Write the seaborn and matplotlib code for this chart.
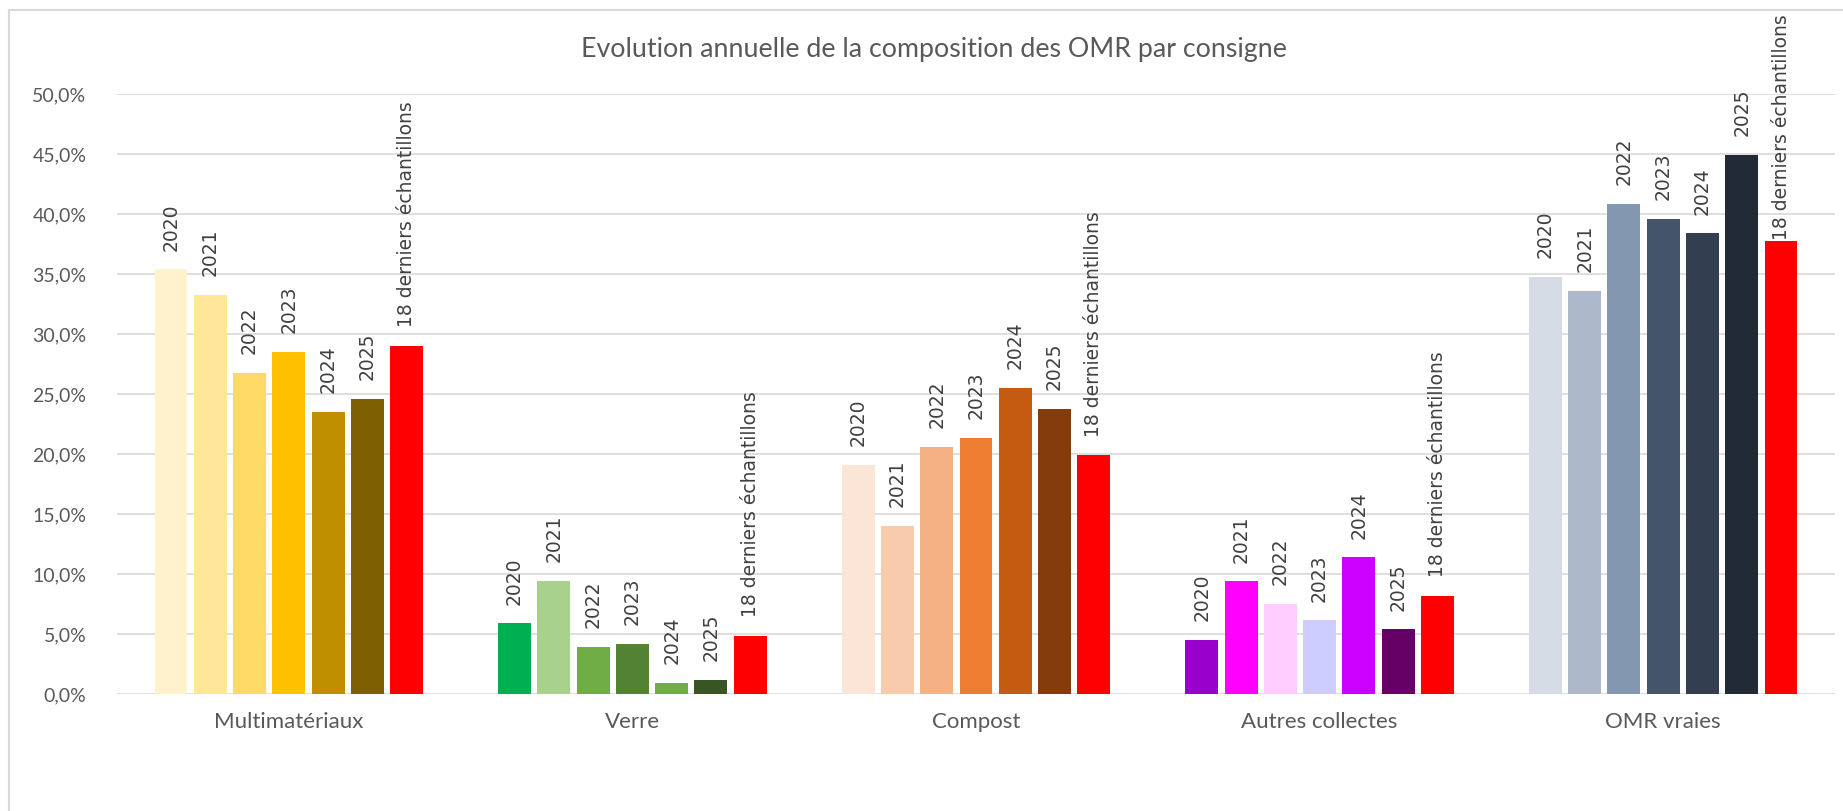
import matplotlib
matplotlib.use("Agg")
import matplotlib.pyplot as plt
import seaborn as sns
import pandas as pd
from matplotlib.patches import Rectangle

# ---- data ----
categories = ["Multimatériaux", "Verre", "Compost", "Autres collectes", "OMR vraies"]
series = ["2020", "2021", "2022", "2023", "2024", "2025", "18 derniers échantillons"]

multimateriaux = [35.4, 33.3, 26.8, 28.5, 23.5, 24.6, 29.0]
verre = [5.9, 9.45, 3.95, 4.2, 0.95, 1.2, 4.85]
compost = [19.1, 14.0, 20.6, 21.35, 25.5, 23.8, 19.9]
autres_collectes = [4.55, 9.4, 7.55, 6.15, 11.4, 5.4, 8.2]
omr_vraies = [34.75, 33.6, 40.85, 39.6, 38.4, 44.9, 37.75]

colors_multi = ['#FFF2CC', '#FFE699', '#FFD966', '#FFC000', '#BF8F00', '#7F6000', '#FF0000']
colors_verre = ['#00B050', '#A9D18E', '#70AD47', '#548235', '#70AD47', '#375623', '#FF0000']
colors_compost = ['#FBE5D6', '#F8CBAD', '#F4B183', '#ED7D31', '#C55A11', '#843C0C', '#FF0000']
colors_autres = ['#9900CC', '#FF00FF', '#FFCCFF', '#CCCCFF', '#CC00FF', '#660066', '#FF0000']
colors_omr = ['#D6DCE5', '#ADB9CA', '#8497B0', '#44546A', '#333F50', '#222A35', '#FF0000']

title = "Evolution annuelle de la composition des OMR par consigne"
y_ticks = [0, 5, 10, 15, 20, 25, 30, 35, 40, 45, 50]

values = [multimateriaux, verre, compost, autres_collectes, omr_vraies]
colors = [colors_multi, colors_verre, colors_compost, colors_autres, colors_omr]

rows = []
for c, vals in zip(categories, values):
    for s, v in zip(series, vals):
        rows.append({"cat": c, "serie": s, "val": v})
df = pd.DataFrame(rows)

# ---- figure ----
sns.set_theme(style="white")
plt.rcParams['font.family'] = ['Lato', 'DejaVu Sans']

W, H = 1843, 811
fig = plt.figure(figsize=(W / 100, H / 100), dpi=100)
fig.patch.set_facecolor("white")

# chart border
fig.add_artist(Rectangle((9 / W, -0.05), 1.2, (H - 10) / H + 0.05, transform=fig.transFigure,
                         fill=False, edgecolor="#D9D9D9", linewidth=1.5))

left, right = 117, 1835
top, bottom = 94, 694.3
ax = fig.add_axes([left / W, (H - bottom) / H, (right - left) / W, (bottom - top) / H])

sns.barplot(data=df, x="cat", y="val", hue="serie", order=categories, hue_order=series,
            width=0.8, gap=0.16, legend=False, ax=ax, palette=["#888888"] * len(series),
            saturation=1, errorbar=None)

for i, cont in enumerate(ax.containers):
    for j, bar in enumerate(cont):
        bar.set_facecolor(colors[j][i])
        bar.set_edgecolor("none")

ax.set_ylim(0, 50)
ax.set_yticks(y_ticks)
ax.set_yticklabels([f"{v:.1f}".replace(".", ",") + "%" for v in y_ticks])
ax.set_xlabel("")
ax.set_ylabel("")
ax.grid(axis="y", color="#D9D9D9", linewidth=1.2)
ax.set_axisbelow(True)
for sp in ax.spines.values():
    sp.set_visible(False)
ax.tick_params(axis="y", length=0, pad=22, labelsize=14, labelcolor="#595959")
ax.tick_params(axis="x", length=0, pad=13, labelsize=16, labelcolor="#595959")

# data labels
texts = []
for i, cont in enumerate(ax.containers):
    for j, bar in enumerate(cont):
        x = bar.get_x() + bar.get_width() / 2
        h = bar.get_height()
        t = ax.annotate(series[i], (x, h), xytext=(0, 13.5), textcoords="offset points",
                        rotation=90, ha="center", va="bottom", fontsize=13.5,
                        color="#404040", family="DejaVu Sans", annotation_clip=False)
        texts.append(t)

fig.text(934 / W, 1 - 49 / H, title, ha="center", va="center", fontsize=19.3, color="#595959")

# keep labels inside the chart area
fig.canvas.draw()
renderer = fig.canvas.get_renderer()
limit = H - 14
for t in texts:
    bb = t.get_window_extent(renderer)
    if bb.y1 > limit:
        shift_pt = (bb.y1 - limit) * 72 / 100
        ox, oy = t.xyann
        t.xyann = (ox, oy - shift_pt)

fig.savefig("out.png", dpi=100, facecolor="white")
